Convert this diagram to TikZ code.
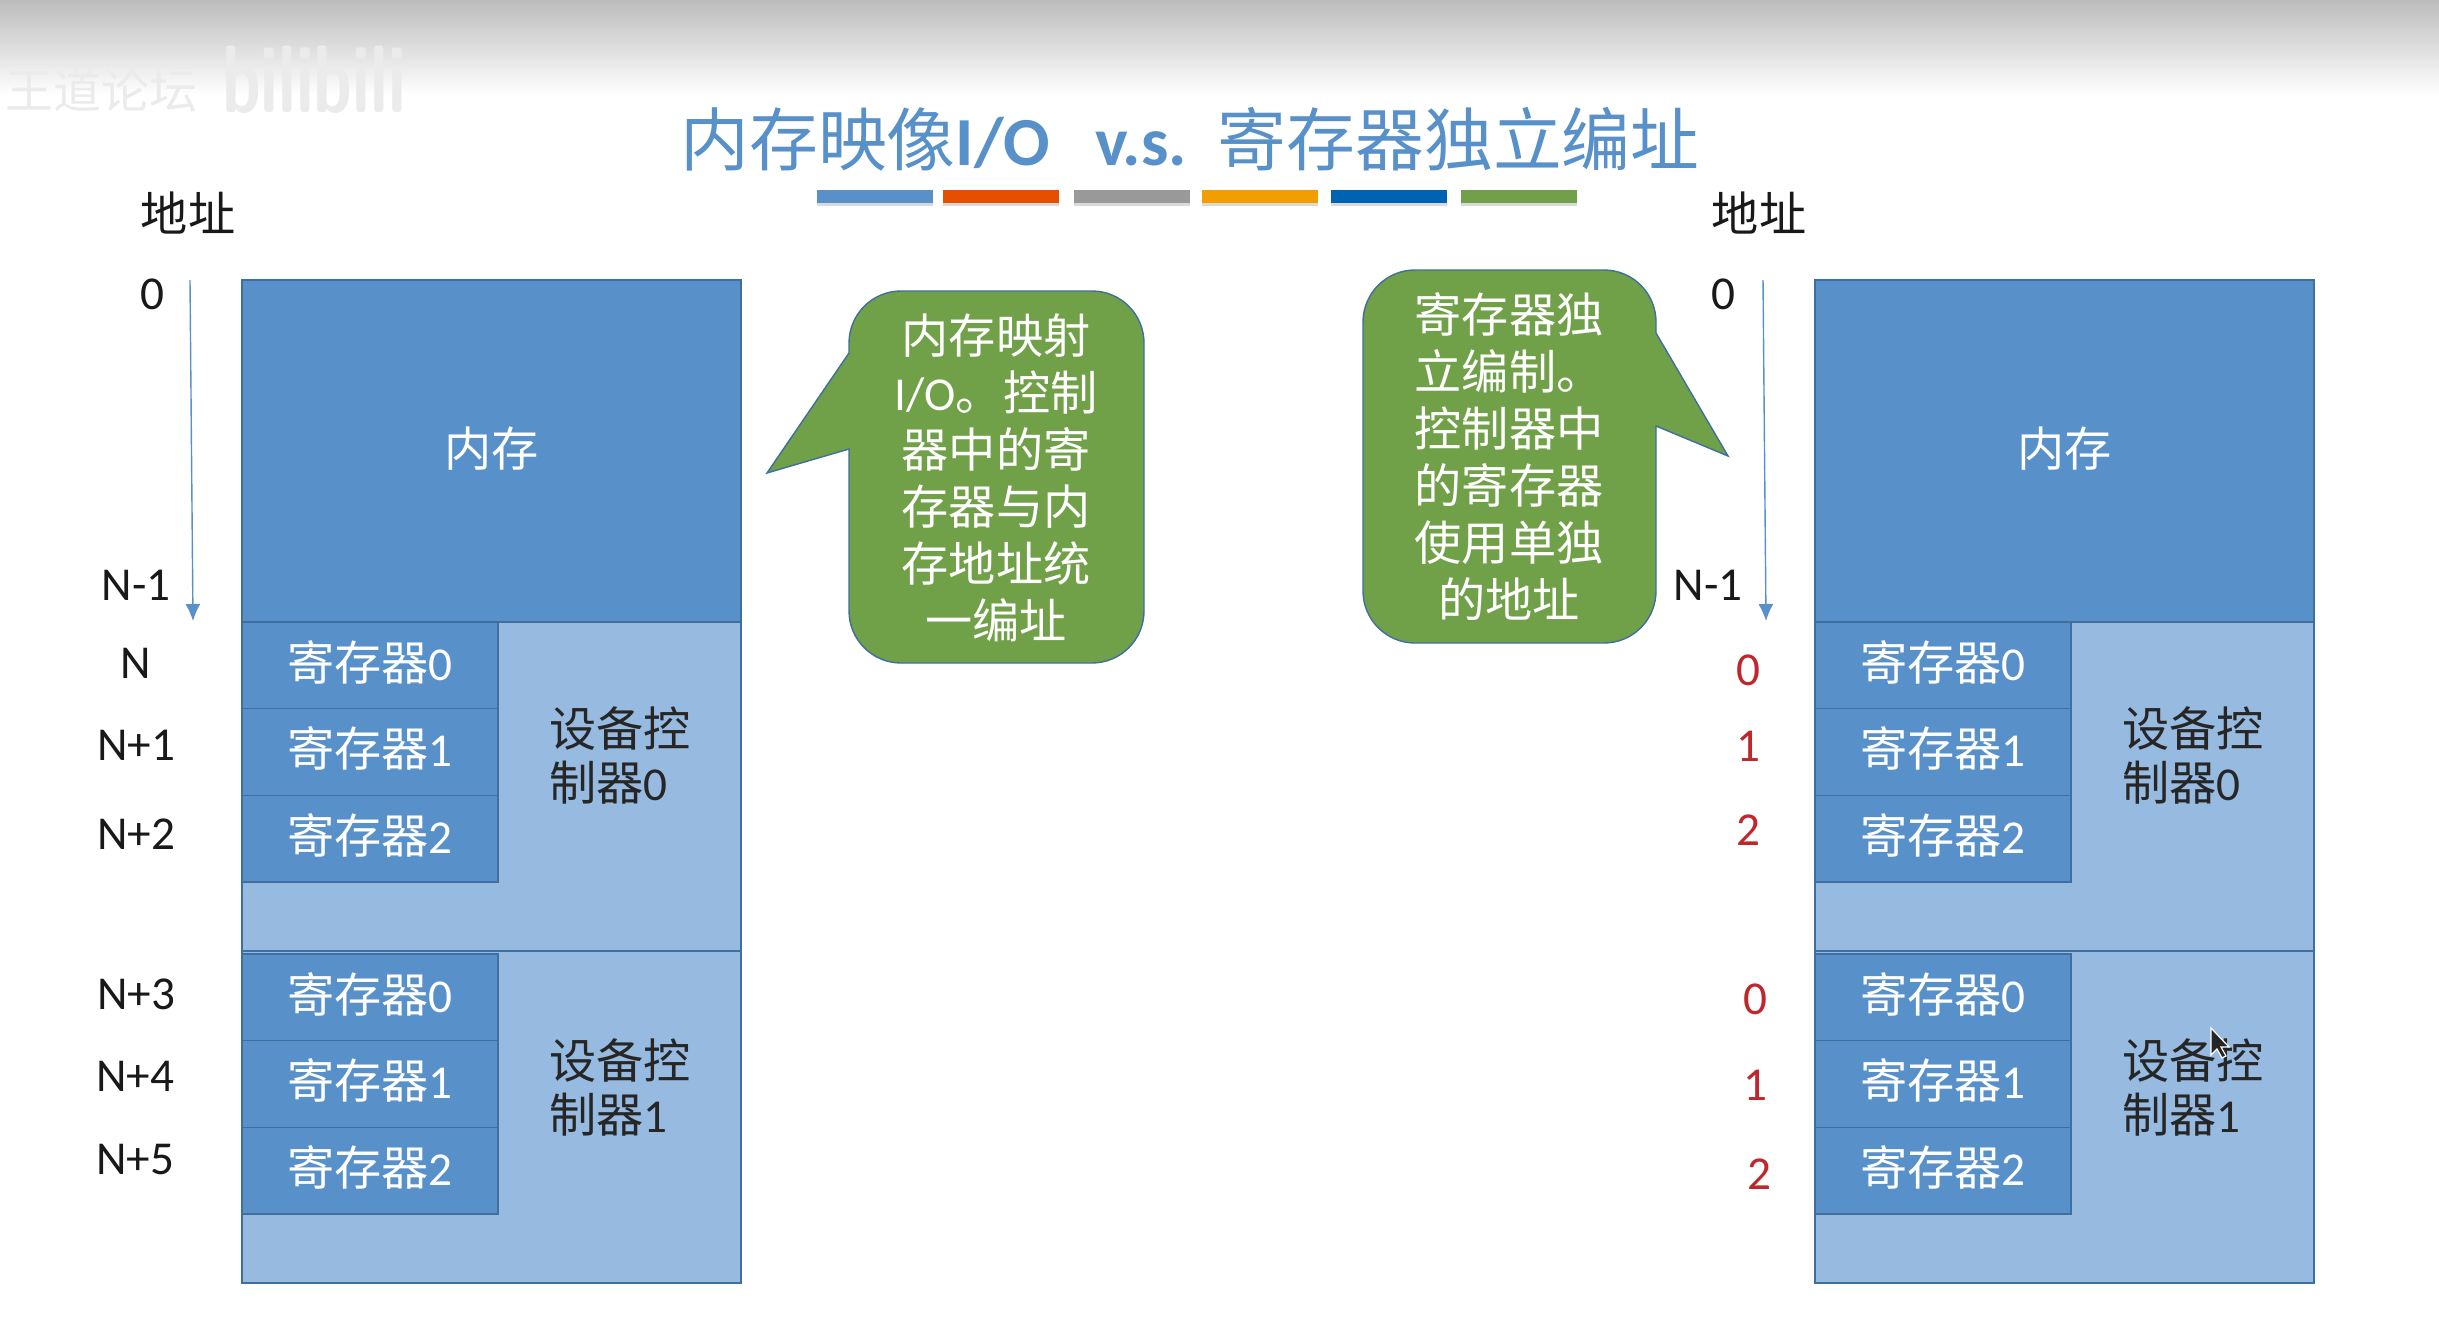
\documentclass[tikz,border=0pt]{standalone}
\usepackage{xcolor}
\usepackage{fontspec}
\usetikzlibrary{positioning,arrows.meta,shadows}
\setmainfont{Carlito}
\newfontfamily\zh{Noto Sans CJK SC}

\definecolor{deepblue}{HTML}{5890C9}
\definecolor{paleblue}{HTML}{97BAE0}
\definecolor{edgeblue}{HTML}{3F6F9E}
\definecolor{bubblegreen}{HTML}{70A048}
\definecolor{addrred}{HTML}{C0272D}

\begin{document}
\begin{tikzpicture}[x=0.5pt,y=-0.5pt,
    every node/.style={font=\fontsize{23.6}{27}\selectfont,inner sep=0pt,outer sep=0pt},
    membox/.style={draw=edgeblue,line width=0.7pt,fill=deepblue,text=white,minimum width=249.5pt,minimum height=171pt,text height=20pt,text depth=5pt},
    ctrlbox/.style={draw=edgeblue,line width=0.7pt,fill=paleblue,minimum width=249.5pt},
    regbox/.style={draw=edgeblue,line width=0.7pt,fill=deepblue,text=white,minimum width=128pt,minimum height=43.3pt,text height=20pt,text depth=5pt},
    ctrltext/.style={align=left,text=black!85},
    addr/.style={text=black!90},
    redaddr/.style={text=addrred},
    addrarrow/.style={-{Latex[width=7.5pt,length=8.5pt]},draw=deepblue,line width=0.7pt},
    bubble/.style={draw=edgeblue,fill=bubblegreen,line width=0.7pt},
    bubbletext/.style={align=center,text=white,font=\fontsize{23.6}{28.5}\selectfont},
    bar/.style={minimum width=58pt,minimum height=6.5pt,drop shadow={shadow xshift=0pt,shadow yshift=-1.5pt,opacity=0.3}}]
  \useasboundingbox (0,0) rectangle (2439,1317);

  % top of the screen
  \shade[top color=black!26,bottom color=white] (0,0) rectangle (2439,95);
  \node[text=black!8,font=\fontsize{24}{27}\selectfont\zh,anchor=east] (forum) at (197,90) {王道论坛};
  \node[text=black!8,font=\fontsize{48}{48}\selectfont\bfseries\sffamily,anchor=west] (site) at (222,80) {\scalebox{0.72}[1]{bilibili}};

  % title
  \node[text=deepblue,font=\fontsize{34.4}{36}\selectfont\bfseries] (title) at (1190,139)
    {{\mdseries\zh 内存映像}I/O\hspace{22.5pt}v.s.\hspace{15.5pt}{\mdseries\zh 寄存器独立编址}};
  \node[bar,fill=deepblue] (bar1) at (875,196) {};
  \node[bar,fill=orange!70!red!90!black] (bar2) at (1001,196) {};
  \node[bar,fill=black!40] (bar3) at (1132,196) {};
  \node[bar,fill=orange!70!yellow!95!black] (bar4) at (1260,196) {};
  \node[bar,fill=blue!45!cyan!70!black] (bar5) at (1389,196) {};
  \node[bar,fill=bubblegreen] (bar6) at (1519,196) {};

  % the two columns
  \foreach \col/\xpos in {l/242,r/1815} {
    \node[membox,anchor=north west] (mem\col) at (\xpos,280) {\zh 内存};
    \node[ctrlbox,minimum height=164.5pt,below=0pt of mem\col] (ctrla\col) {};
    \node[ctrlbox,minimum height=166pt,below=0pt of ctrla\col] (ctrlb\col) {};
    \node[regbox,anchor=north west] (rega0\col) at (ctrla\col.north west) {{\zh 寄存器}0};
    \node[regbox,below=0pt of rega0\col] (rega1\col) {{\zh 寄存器}1};
    \node[regbox,below=0pt of rega1\col] (rega2\col) {{\zh 寄存器}2};
    \node[regbox,anchor=north west] (regb0\col) at ([yshift=-1.5pt]ctrlb\col.north west) {{\zh 寄存器}0};
    \node[regbox,below=0pt of regb0\col] (regb1\col) {{\zh 寄存器}1};
    \node[regbox,below=0pt of regb1\col] (regb2\col) {{\zh 寄存器}2};
    \node[ctrltext,anchor=west,xshift=25.5pt,yshift=-2pt] (namea\col) at (rega1\col.east) {{\zh 设备控}\\{\zh 制器}0};
    \node[ctrltext,anchor=west,xshift=25.5pt,yshift=-2pt] (nameb\col) at (regb1\col.east) {{\zh 设备控}\\{\zh 制器}1};
  }

  % address axes
  \node[addr,font=\fontsize{23.6}{27}\selectfont\zh] (headl) at (188,213) {地址};
  \node[addr,font=\fontsize{23.6}{27}\selectfont\zh] (headr) at (1759,213) {地址};
  \coordinate (topl) at (190,280);
  \coordinate (botl) at (193,621);
  \coordinate (topr) at (1763,280);
  \coordinate (botr) at (1766,621);
  \draw[addrarrow] (topl) -- (botl);
  \draw[addrarrow] (topr) -- (botr);

  \node[addr] (zerol) at (152,294) {0};
  \node[addr] (lastl) at (136,585) {N-1};
  \node[addr] (n0) at (136,663) {N};
  \node[addr] (n1) at (136,745) {N+1};
  \node[addr] (n2) at (136,834) {N+2};
  \node[addr] (n3) at (136,994) {N+3};
  \node[addr] (n4) at (135,1076) {N+4};
  \node[addr] (n5) at (135,1160) {N+5};

  \node[addr] (zeror) at (1723,294) {0};
  \node[addr] (lastr) at (1708,585) {N-1};
  \node[redaddr] (ra0) at (1748,670) {0};
  \node[redaddr] (ra1) at (1748,746) {1};
  \node[redaddr] (ra2) at (1748,830) {2};
  \node[redaddr] (rb0) at (1755,999) {0};
  \node[redaddr] (rb1) at (1755,1085) {1};
  \node[redaddr] (rb2) at (1759,1174) {2};

  % speech bubbles
  \draw[bubble] (849,449) [rounded corners=26pt] -- (849,663) -- (1144,663) -- (1144,291) -- (849,291)
    [sharp corners] -- (849,353) -- (767,473) -- cycle;
  \node[bubbletext] (notel) at (996,478) {{\zh 内存映射}\\I/O{\zh 。控制}\\{\zh 器中的寄}\\{\zh 存器与内}\\{\zh 存地址统}\\{\zh 一编址}};

  \draw[bubble] (1656,333) [rounded corners=26pt] -- (1656,270) -- (1363,270) -- (1363,643) -- (1656,643)
    [sharp corners] -- (1656,426) -- (1728,456) -- cycle;
  \node[bubbletext] (noter) at (1509,457) {{\zh 寄存器独}\\{\zh 立编制。}\\{\zh 控制器中}\\{\zh 的寄存器}\\{\zh 使用单独}\\{\zh 的地址}};

  % mouse pointer
  \fill[black!85,draw=white,line width=0.6pt] (2211,1028) -- (2211,1055) -- (2217,1049) -- (2222,1058) -- (2226,1056) -- (2221,1047) -- (2229,1047) -- cycle;
\end{tikzpicture}
\end{document}
